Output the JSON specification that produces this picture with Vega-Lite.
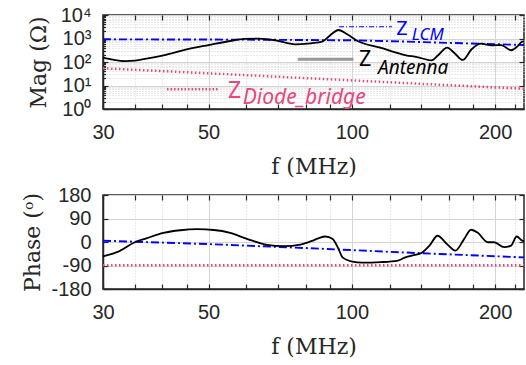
{
  "$schema": "https://vega.github.io/schema/vega-lite/v6.json",
  "background": "white",
  "padding": {"left": 21, "top": 4, "right": 2, "bottom": 2},
  "datasets": {
    "mag": [
      {"s": "Diode", "f": 30, "v": 54},
      {"s": "Diode", "f": 50, "v": 33},
      {"s": "Diode", "f": 100, "v": 16.5},
      {"s": "Diode", "f": 150, "v": 11},
      {"s": "Diode", "f": 230, "v": 7.3},
      {"s": "LCM", "f": 30, "v": 925},
      {"s": "LCM", "f": 60, "v": 895},
      {"s": "LCM", "f": 100, "v": 840},
      {"s": "LCM", "f": 130, "v": 740},
      {"s": "LCM", "f": 160, "v": 650},
      {"s": "LCM", "f": 200, "v": 575},
      {"s": "LCM", "f": 230, "v": 527},
      {"s": "Antenna", "f": 30, "v": 152},
      {"s": "Antenna", "f": 31.5, "v": 125},
      {"s": "Antenna", "f": 33.4, "v": 110},
      {"s": "Antenna", "f": 35, "v": 115},
      {"s": "Antenna", "f": 37, "v": 138},
      {"s": "Antenna", "f": 40.2, "v": 193},
      {"s": "Antenna", "f": 45, "v": 347},
      {"s": "Antenna", "f": 50, "v": 527},
      {"s": "Antenna", "f": 55.5, "v": 783},
      {"s": "Antenna", "f": 59.4, "v": 955},
      {"s": "Antenna", "f": 63.9, "v": 983},
      {"s": "Antenna", "f": 69.2, "v": 835},
      {"s": "Antenna", "f": 76, "v": 566},
      {"s": "Antenna", "f": 80.7, "v": 600},
      {"s": "Antenna", "f": 82, "v": 625},
      {"s": "Antenna", "f": 86.6, "v": 731},
      {"s": "Antenna", "f": 89.7, "v": 1280},
      {"s": "Antenna", "f": 93.8, "v": 2300},
      {"s": "Antenna", "f": 97.8, "v": 1510},
      {"s": "Antenna", "f": 102.8, "v": 783},
      {"s": "Antenna", "f": 114.7, "v": 408},
      {"s": "Antenna", "f": 130, "v": 193},
      {"s": "Antenna", "f": 137, "v": 163},
      {"s": "Antenna", "f": 147, "v": 118},
      {"s": "Antenna", "f": 152, "v": 200},
      {"s": "Antenna", "f": 158.5, "v": 408},
      {"s": "Antenna", "f": 164, "v": 249},
      {"s": "Antenna", "f": 171, "v": 122},
      {"s": "Antenna", "f": 178.5, "v": 350},
      {"s": "Antenna", "f": 187, "v": 600},
      {"s": "Antenna", "f": 197, "v": 513},
      {"s": "Antenna", "f": 206, "v": 527},
      {"s": "Antenna", "f": 216, "v": 316},
      {"s": "Antenna", "f": 222, "v": 434},
      {"s": "Antenna", "f": 228, "v": 731},
      {"s": "Antenna", "f": 230, "v": 760}
    ],
    "phase": [
      {"s": "Diode", "f": 30, "v": -89},
      {"s": "Diode", "f": 230, "v": -89},
      {"s": "LCM", "f": 30, "v": 5},
      {"s": "LCM", "f": 50, "v": -8},
      {"s": "LCM", "f": 82, "v": -24},
      {"s": "LCM", "f": 140, "v": -43},
      {"s": "LCM", "f": 230, "v": -59},
      {"s": "Antenna", "f": 30, "v": -55},
      {"s": "Antenna", "f": 32.1, "v": -39},
      {"s": "Antenna", "f": 35, "v": -1},
      {"s": "Antenna", "f": 37, "v": 14},
      {"s": "Antenna", "f": 40.2, "v": 35},
      {"s": "Antenna", "f": 43.6, "v": 45},
      {"s": "Antenna", "f": 47.3, "v": 49},
      {"s": "Antenna", "f": 51.3, "v": 46},
      {"s": "Antenna", "f": 55.5, "v": 35},
      {"s": "Antenna", "f": 60.2, "v": 12},
      {"s": "Antenna", "f": 66.4, "v": -11},
      {"s": "Antenna", "f": 71.9, "v": -16},
      {"s": "Antenna", "f": 78, "v": -10},
      {"s": "Antenna", "f": 82.4, "v": 4},
      {"s": "Antenna", "f": 85, "v": 14},
      {"s": "Antenna", "f": 88, "v": 21},
      {"s": "Antenna", "f": 91, "v": 12},
      {"s": "Antenna", "f": 93.8, "v": -27},
      {"s": "Antenna", "f": 95.6, "v": -59},
      {"s": "Antenna", "f": 100.3, "v": -75},
      {"s": "Antenna", "f": 105, "v": -79},
      {"s": "Antenna", "f": 115, "v": -77},
      {"s": "Antenna", "f": 125, "v": -71},
      {"s": "Antenna", "f": 129.5, "v": -59},
      {"s": "Antenna", "f": 135, "v": -50},
      {"s": "Antenna", "f": 140, "v": -42},
      {"s": "Antenna", "f": 145.6, "v": -14},
      {"s": "Antenna", "f": 151.4, "v": 24},
      {"s": "Antenna", "f": 158.5, "v": -8},
      {"s": "Antenna", "f": 165, "v": -33},
      {"s": "Antenna", "f": 172, "v": 10},
      {"s": "Antenna", "f": 178, "v": 47},
      {"s": "Antenna", "f": 184, "v": 35},
      {"s": "Antenna", "f": 193, "v": -1},
      {"s": "Antenna", "f": 199, "v": -1},
      {"s": "Antenna", "f": 209, "v": -20},
      {"s": "Antenna", "f": 216, "v": -14},
      {"s": "Antenna", "f": 222, "v": 21},
      {"s": "Antenna", "f": 228, "v": 5},
      {"s": "Antenna", "f": 230, "v": 3}
    ],
    "ann": [
      {"id": "LCM", "part": "seg", "f": 94, "f2": 121.5, "v": 3160},
      {"id": "Antenna", "part": "seg", "f": 77, "f2": 100.8, "v": 130},
      {"id": "Diode", "part": "seg", "f": 40.9, "f2": 52.6, "v": 6.9},
      {"id": "LCM", "part": "Z", "t": "Z", "f": 124, "v": 1410},
      {"id": "LCM", "part": "sub", "t": "LCM", "f": 133.6, "v": 863},
      {"id": "Antenna", "part": "Z", "t": "Z", "f": 103.5, "v": 68},
      {"id": "Antenna", "part": "sub", "t": "Antenna", "f": 113.5, "v": 31},
      {"id": "Diode", "part": "Z", "t": "Z", "f": 54.9, "v": 3.0},
      {"id": "Diode", "part": "sub", "t": "Diode_bridge", "f": 59, "v": 1.63}
    ]
  },
  "config": {
    "view": {"stroke": "#262626", "strokeWidth": 1.5},
    "concat": {"spacing": 6},
    "axis": {
      "labelFont": "Liberation Sans",
      "labelFontSize": 20,
      "labelColor": "#262626",
      "titleFont": "DejaVu Serif",
      "titleFontSize": 22,
      "titleFontWeight": "normal",
      "titleColor": "#262626",
      "domainColor": "#262626",
      "domainWidth": 1.5,
      "tickColor": "#262626",
      "tickWidth": 1.2,
      "gridColor": "#d4d4d4",
      "gridWidth": 1,
      "labelOverlap": false,
      "labelFlush": false
    }
  },
  "vconcat": [
    {
      "width": 421,
      "height": 94,
      "resolve": {"axis": {"x": "independent", "y": "independent"}},
      "layer": [
        {
          "encoding": {
            "x": {
              "field": "f", "type": "quantitative",
              "scale": {"type": "log", "domain": [30, 230], "nice": false},
              "axis": {
                "title": "f (MHz)",
                "values": [30, 35, 40, 45, 50, 60, 70, 80, 90, 100, 120, 140, 160, 180, 200, 220],
                "labelExpr": "indexof([30,50,100,200], datum.value) >= 0 ? format(datum.value, 'd') : ''",
                "grid": true,
                "gridDash": {"condition": {"test": "indexof([30,50,100,200], datum.value) < 0", "value": [1, 2]}, "value": []},
                "tickSize": -5,
                "labelPadding": 18,
                "titlePadding": 14
              }
            },
            "y": {
              "field": "v", "type": "quantitative",
              "scale": {"type": "log", "domain": [1, 10000], "nice": false},
              "axis": {
                "title": "Mag (Ω)",
                "values": [1, 2, 3, 4, 5, 6, 7, 8, 9, 10, 20, 30, 40, 50, 60, 70, 80, 90, 100, 200, 300, 400, 500, 600, 700, 800, 900, 1000, 2000, 3000, 4000, 5000, 6000, 7000, 8000, 9000, 10000],
                "labelExpr": "datum.value == 1 ? '10⁰' : datum.value == 10 ? '10¹' : datum.value == 100 ? '10²' : datum.value == 1000 ? '10³' : datum.value == 10000 ? '10⁴' : ''",
                "grid": true,
                "gridDash": {"condition": {"test": "indexof([1,10,100,1000,10000], datum.value) < 0", "value": [1, 2]}, "value": []},
                "tickSize": {"condition": {"test": "indexof([1,10,100,1000,10000], datum.value) < 0", "value": -2.5}, "value": -5},
                "labelPadding": 17,
                "titlePadding": 10
              }
            }
          },
          "resolve": {"scale": {"size": "independent"}},
          "layer": [
            {
              "data": {"name": "mag"},
              "transform": [{"filter": "datum.s == 'Diode'"}],
              "mark": {"type": "line", "color": "#E8467C", "strokeWidth": 2.5, "strokeDash": [1.5, 2.5]}
            },
            {
              "data": {"name": "mag"},
              "transform": [{"filter": "datum.s == 'LCM'"}],
              "mark": {"type": "line", "color": "#0000FF", "strokeWidth": 1.9, "strokeDash": [8, 3, 2, 3]}
            },
            {
              "data": {"name": "mag"},
              "transform": [{"filter": "datum.s == 'Antenna'"}],
              "mark": {"type": "line", "color": "#000000", "strokeWidth": 1.8, "interpolate": "monotone"}
            },
            {
              "data": {"name": "ann"},
              "transform": [{"filter": "datum.part == 'seg' && datum.id == 'LCM'"}],
              "mark": {"type": "rule", "color": "#0000FF", "strokeWidth": 1, "strokeDash": [5, 2, 1, 2]},
              "encoding": {"x2": {"field": "f2"}}
            },
            {
              "data": {"name": "ann"},
              "transform": [{"filter": "datum.part == 'seg' && datum.id == 'Antenna'"}],
              "mark": {"type": "rule", "color": "#999999", "strokeWidth": 3},
              "encoding": {"x2": {"field": "f2"}}
            },
            {
              "data": {"name": "ann"},
              "transform": [{"filter": "datum.part == 'seg' && datum.id == 'Diode'"}],
              "mark": {"type": "rule", "color": "#E8467C", "strokeWidth": 2.5, "strokeDash": [1.5, 2]},
              "encoding": {"x2": {"field": "f2"}}
            },
            {
              "data": {"name": "ann"},
              "transform": [{"filter": "datum.part == 'Z'"}],
              "mark": {"type": "text", "align": "left", "baseline": "alphabetic", "font": "Noto Sans"},
              "encoding": {
                "text": {"field": "t"},
                "color": {"field": "id", "type": "nominal", "scale": {"domain": ["LCM", "Antenna", "Diode"], "range": ["#0000FF", "#000000", "#E8467C"]}, "legend": null},
                "size": {"field": "id", "type": "ordinal", "scale": {"domain": ["LCM", "Antenna", "Diode"], "range": [20, 23, 25]}, "legend": null}
              }
            },
            {
              "data": {"name": "ann"},
              "transform": [{"filter": "datum.part == 'sub'"}],
              "mark": {"type": "text", "align": "left", "baseline": "alphabetic", "font": "Noto Sans", "fontStyle": "italic"},
              "encoding": {
                "text": {"field": "t"},
                "color": {"field": "id", "type": "nominal", "scale": {"domain": ["LCM", "Antenna", "Diode"], "range": ["#0000FF", "#000000", "#E8467C"]}, "legend": null},
                "size": {"field": "id", "type": "ordinal", "scale": {"domain": ["LCM", "Antenna", "Diode"], "range": [17, 21, 18]}, "legend": null}
              }
            }
          ]
        },
        {
          "data": {"name": "mag"},
          "mark": {"type": "line", "opacity": 0},
          "encoding": {
            "x": {
              "field": "f", "type": "quantitative",
              "scale": {"type": "log", "domain": [30, 230], "nice": false},
              "axis": {"orient": "top", "labels": false, "title": null, "grid": false, "domain": false,
                "values": [30, 35, 40, 45, 50, 60, 70, 80, 90, 100, 120, 140, 160, 180, 200, 220], "tickSize": -5}
            },
            "y": {
              "field": "v", "type": "quantitative",
              "scale": {"type": "log", "domain": [1, 10000], "nice": false},
              "axis": {"orient": "right", "labels": false, "title": null, "grid": false, "domain": false,
                "values": [1, 10, 100, 1000, 10000], "tickSize": -5}
            }
          }
        }
      ]
    },
    {
      "width": 421,
      "height": 94,
      "resolve": {"axis": {"x": "independent", "y": "independent"}},
      "layer": [
        {
          "data": {"name": "phase"},
          "encoding": {
            "x": {
              "field": "f", "type": "quantitative",
              "scale": {"type": "log", "domain": [30, 230], "nice": false},
              "axis": {
                "title": "f (MHz)",
                "values": [30, 35, 40, 45, 50, 60, 70, 80, 90, 100, 120, 140, 160, 180, 200, 220],
                "labelExpr": "indexof([30,50,100,200], datum.value) >= 0 ? format(datum.value, 'd') : ''",
                "grid": true,
                "gridDash": {"condition": {"test": "indexof([30,50,100,200], datum.value) < 0", "value": [1, 2]}, "value": []},
                "tickSize": -5,
                "labelPadding": 18,
                "titlePadding": 14
              }
            },
            "y": {
              "field": "v", "type": "quantitative",
              "scale": {"domain": [-180, 180], "nice": false},
              "axis": {
                "title": "Phase (ᵒ)",
                "values": [-180, -90, 0, 90, 180],
                "labelExpr": "datum.value < 0 ? '-' + abs(datum.value) : '' + datum.value",
                "grid": true,
                "tickSize": -5,
                "labelPadding": 17,
                "titlePadding": 6
              }
            }
          },
          "layer": [
            {
              "transform": [{"filter": "datum.s == 'Diode'"}],
              "mark": {"type": "line", "color": "#E8467C", "strokeWidth": 2.5, "strokeDash": [1.5, 2.5]}
            },
            {
              "transform": [{"filter": "datum.s == 'LCM'"}],
              "mark": {"type": "line", "color": "#0000FF", "strokeWidth": 1.9, "strokeDash": [8, 3, 2, 3]}
            },
            {
              "transform": [{"filter": "datum.s == 'Antenna'"}],
              "mark": {"type": "line", "color": "#000000", "strokeWidth": 1.8, "interpolate": "monotone"}
            }
          ]
        },
        {
          "data": {"name": "phase"},
          "mark": {"type": "line", "opacity": 0},
          "encoding": {
            "x": {
              "field": "f", "type": "quantitative",
              "scale": {"type": "log", "domain": [30, 230], "nice": false},
              "axis": {"orient": "top", "labels": false, "title": null, "grid": false, "domain": false,
                "values": [30, 35, 40, 45, 50, 60, 70, 80, 90, 100, 120, 140, 160, 180, 200, 220], "tickSize": -5}
            },
            "y": {
              "field": "v", "type": "quantitative",
              "scale": {"domain": [-180, 180], "nice": false},
              "axis": {"orient": "right", "labels": false, "title": null, "grid": false, "domain": false,
                "values": [-180, -90, 0, 90, 180], "tickSize": -5}
            }
          }
        }
      ]
    }
  ]
}
